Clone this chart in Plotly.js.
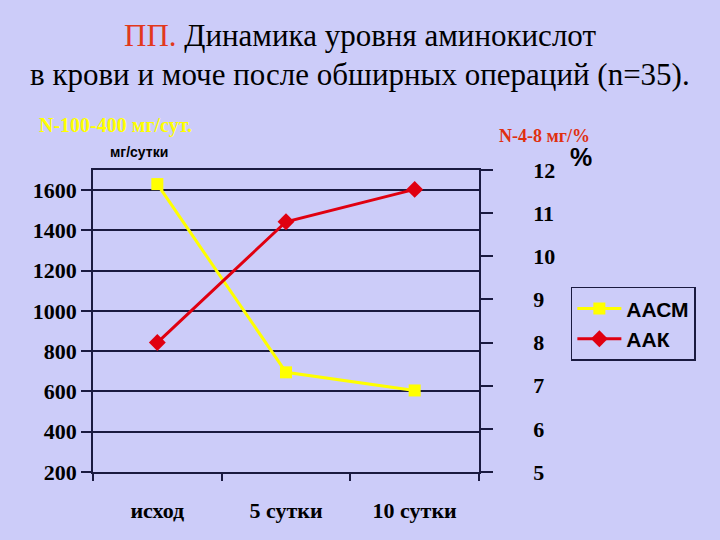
<!DOCTYPE html>
<html>
<head>
<meta charset="utf-8">
<script src="https://cdn.plot.ly/plotly-3.0.1.min.js"></script>
<style>
  body { margin: 0; background: #ccccf9; }
</style>
</head>
<body>
<div id="plot"></div>
<script>
// categories on x axis
var days = ['исход', '5 сутки', '10 сутки'];
// AACM, mg/day (left axis)
var aacm = [1630, 695, 605];
// AAK, mg% (right axis)
var aak = [8.0, 10.8, 11.55];

var leftTicks = [200, 400, 600, 800, 1000, 1200, 1400, 1600];
var rightTicks = [5, 6, 7, 8, 9, 10, 11, 12];

// title lines
var titleRed = 'ПП.';
var titleLine1 = 'Динамика уровня аминокислот';
var titleLine2 = 'в крови и моче после обширных операций (n=35).';

var bg = '#ccccf9';
var ink = '#1a1a40';
var serif = 'Liberation Serif';
var sans = 'Liberation Sans';

var trace1 = {
  x: days,
  y: aacm,
  name: 'ААСМ',
  type: 'scatter',
  mode: 'lines+markers',
  line: {color: '#ffff00', width: 3},
  marker: {symbol: 'square', size: 12, color: '#ffff00'}
};
var trace2 = {
  x: days,
  y: aak,
  name: 'ААК',
  yaxis: 'y2',
  type: 'scatter',
  mode: 'lines+markers',
  line: {color: '#e00010', width: 3},
  marker: {symbol: 'diamond', size: 13, color: '#e00010'}
};

var numFont = {family: serif, size: 22, color: '#000', weight: 'bold'};

var layout = {
  width: 720,
  height: 540,
  paper_bgcolor: bg,
  plot_bgcolor: bg,
  margin: {l: 93, r: 241, t: 170, b: 68},
  showlegend: true,
  xaxis: {
    type: 'category',
    range: [-0.5, 2.5],
    tickson: 'boundaries',
    ticks: 'outside',
    ticklen: 7,
    tickcolor: ink,
    tickwidth: 1.5,
    showline: true,
    linecolor: ink,
    linewidth: 1.5,
    mirror: true,
    showgrid: false,
    ticklabelstandoff: 18,
    tickfont: {family: serif, size: 22, color: '#000', weight: 'bold'}
  },
  yaxis: {
    range: [200, 1700],
    tickvals: leftTicks,
    ticks: 'outside',
    ticklen: 10,
    tickcolor: ink,
    tickwidth: 1.5,
    showline: true,
    linecolor: ink,
    linewidth: 1.5,
    showgrid: true,
    gridcolor: ink,
    gridwidth: 1.5,
    zeroline: false,
    tickfont: numFont
  },
  yaxis2: {
    overlaying: 'y',
    side: 'right',
    range: [5, 12],
    tickvals: rightTicks,
    ticks: 'outside',
    ticklen: 12,
    tickcolor: ink,
    tickwidth: 1.5,
    showline: true,
    linecolor: ink,
    linewidth: 1.5,
    showgrid: false,
    zeroline: false,
    ticklabelstandoff: 36,
    tickfont: numFont
  },
  legend: {
    x: 1.238,
    y: 0.613,
    xanchor: 'left',
    yanchor: 'top',
    bgcolor: bg,
    bordercolor: ink,
    borderwidth: 1.5,
    itemwidth: 44,
    font: {family: sans, size: 21, color: '#000', weight: 'bold'},
    tracegroupgap: 0
  },
  annotations: [
    {text: '<span style="color:#e2381c">' + titleRed + '</span> ' + titleLine1,
     xref: 'paper', yref: 'paper', x: 0.692, y: 1.447,
     xanchor: 'center', yanchor: 'middle', showarrow: false,
     font: {family: serif, size: 31, color: '#000', weight: 'normal'}},
    {text: titleLine2,
     xref: 'paper', yref: 'paper', x: 0.692, y: 1.315,
     xanchor: 'center', yanchor: 'middle', showarrow: false,
     font: {family: serif, size: 31, color: '#000', weight: 'normal'}},
    {text: 'мг/сутки', xref: 'paper', yref: 'paper', x: 0.04, y: 1.028,
     xanchor: 'left', yanchor: 'bottom', showarrow: false,
     font: {family: sans, size: 14, color: '#000', weight: 'bold'}},
    {text: '%', xref: 'paper', yref: 'paper', x: 1.23, y: 0.99,
     xanchor: 'left', yanchor: 'bottom', showarrow: false,
     font: {family: sans, size: 25, color: '#000', weight: 'bold'}},
    {text: 'N-100-400 мг/сут.', xref: 'paper', yref: 'paper', x: -0.145, y: 1.149,
     xanchor: 'left', yanchor: 'middle', showarrow: false,
     font: {family: serif, size: 20, color: '#ffff00', weight: 'bold'}},
    {text: 'N-4-8 мг/%', xref: 'paper', yref: 'paper', x: 1.047, y: 1.113,
     xanchor: 'left', yanchor: 'middle', showarrow: false,
     font: {family: serif, size: 18, color: '#e03010', weight: 'bold'}}
  ]
};

Plotly.newPlot('plot', [trace1, trace2], layout, {displayModeBar: false});
</script>
</body>
</html>
